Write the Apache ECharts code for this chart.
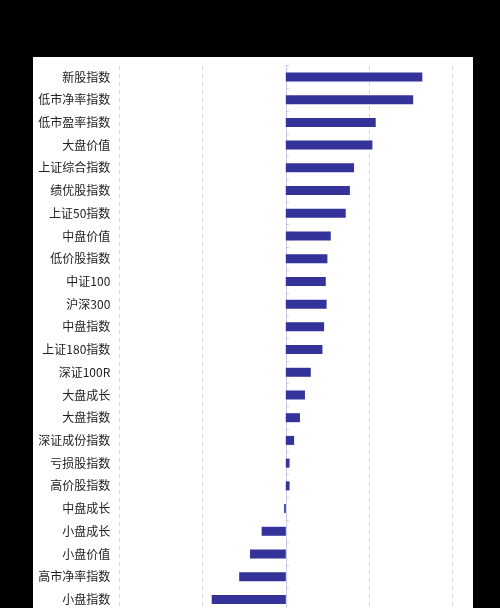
<!DOCTYPE html>
<html>
<head>
<meta charset="utf-8">
<script src="https://cdn.jsdelivr.net/npm/echarts@6/dist/echarts.min.js"></script>
<style>
	html, body { margin: 0; padding: 0; background: #000; overflow: hidden; }
	#chart { width: 500px; height: 620px; }
</style>
</head>
<body>
<div id="chart"></div>
<script>
// 指数名称（从上到下）
var categories = ['新股指数', '低市净率指数', '低市盈率指数', '大盘价值', '上证综合指数', '绩优股指数',
	'上证50指数', '中盘价值', '低价股指数', '中证100', '沪深300', '中盘指数', '上证180指数',
	'深证100R', '大盘成长', '大盘指数', '深证成份指数', '亏损股指数', '高价股指数', '中盘成长',
	'小盘成长', '小盘价值', '高市净率指数', '小盘指数'];
// 各指数数值
var values = [1.64, 1.53, 1.08, 1.04, 0.82, 0.77,
	0.72, 0.54, 0.50, 0.48, 0.49, 0.46, 0.44,
	0.30, 0.23, 0.17, 0.10, 0.045, 0.045, -0.02,
	-0.29, -0.43, -0.56, -0.89];
// 数值轴刻度
var xTicks = [-2, -1, 0, 1, 2];

var chart = echarts.init(document.getElementById('chart'));
var option = {
	backgroundColor: '#000',
	animation: false,
	graphic: [{
		type: 'rect',
		z: -10,
		shape: { x: 33, y: 57, width: 440, height: 600 },
		style: { fill: '#fff' }
	}],
	grid: {
		left: 119.3,
		right: 47.7,
		top: 65.6,
		bottom: 9.2
	},
	xAxis: {
		type: 'value',
		min: xTicks[0],
		max: xTicks[xTicks.length - 1],
		interval: 1,
		axisLine: { show: false },
		axisTick: { show: false },
		axisLabel: { show: false },
		splitLine: {
			show: true,
			lineStyle: { color: '#d4d4d4', type: [4, 4], width: 1 }
		}
	},
	yAxis: [{
		type: 'category',
		data: categories,
		inverse: true,
		position: 'left',
		axisLine: { show: false, onZero: false },
		axisTick: { show: false },
		axisLabel: {
			margin: 9,
			color: '#222',
			fontSize: 12,
			fontFamily: 'Noto Sans CJK SC'
		}
	}, {
		type: 'category',
		data: categories,
		inverse: true,
		position: 'left',
		axisLine: { show: true, onZero: true, lineStyle: { color: '#c9cbe6', width: 1 } },
		axisTick: { show: true, inside: true, length: 3, lineStyle: { color: '#cccccc' } },
		axisLabel: { show: false }
	}],
	series: [{
		type: 'bar',
		data: values,
		barWidth: 9,
		itemStyle: { color: '#333399' },
		z: 3
	}]
};
chart.setOption(option);
</script>
</body>
</html>
